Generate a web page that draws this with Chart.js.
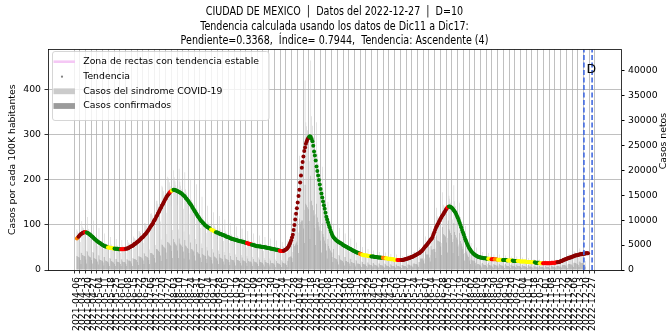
<!DOCTYPE html>
<html>
<head>
<meta charset="utf-8">
<script src="https://cdn.jsdelivr.net/npm/chart.js@4.4.1/dist/chart.umd.min.js"></script>
<style>
  html, body { margin: 0; padding: 0; background: #fff; overflow: hidden; }
  #grafica { display: block; }
</style>
</head>
<body>
<canvas id="grafica" width="669" height="333"></canvas>
<script>
// Weekly tick labels (one every 7 days, day 0 = 2021-04-06)
const etiquetasSemana = [
  '2021-04-06','2021-04-13','2021-04-20','2021-04-27','2021-05-04','2021-05-11','2021-05-18','2021-05-25',
  '2021-06-01','2021-06-08','2021-06-15','2021-06-22','2021-06-29','2021-07-06','2021-07-13','2021-07-20',
  '2021-07-27','2021-08-03','2021-08-10','2021-08-17','2021-08-24','2021-08-31','2021-09-07','2021-09-14',
  '2021-09-21','2021-09-28','2021-10-05','2021-10-12','2021-10-19','2021-10-26','2021-11-02','2021-11-09',
  '2021-11-16','2021-11-23','2021-11-30','2021-12-07','2021-12-14','2021-12-21','2021-12-28','2022-01-04',
  '2022-01-11','2022-01-18','2022-01-25','2022-02-01','2022-02-08','2022-02-15','2022-02-22','2022-03-01',
  '2022-03-08','2022-03-15','2022-03-22','2022-03-29','2022-04-05','2022-04-12','2022-04-19','2022-04-26',
  '2022-05-03','2022-05-10','2022-05-17','2022-05-24','2022-05-31','2022-06-07','2022-06-14','2022-06-21',
  '2022-06-28','2022-07-05','2022-07-12','2022-07-19','2022-07-26','2022-08-02','2022-08-09','2022-08-16',
  '2022-08-23','2022-08-30','2022-09-06','2022-09-13','2022-09-20','2022-09-27','2022-10-04','2022-10-11',
  '2022-10-18','2022-10-25','2022-11-01','2022-11-08','2022-11-15','2022-11-22','2022-11-29','2022-12-06',
  '2022-12-13','2022-12-20','2022-12-27'
];

// Daily trend, cases per 100K (left axis)
const tendencia = [
  70,72,74,76,78,80,81,82,83,84, 84,84,83,82,81,80,78,77,75,74, 72,70,68,67,65,64,62,61,60,59,
  57,56,55,54,53,52,52,51,50,50, 50,49,49,49,48,48,48,47,47,47, 47,46,46,46,46,46,46,46,46,47,
  47,48,48,49,50,51,52,53,54,55, 57,58,59,61,62,64,65,67,69,71, 72,74,76,78,80,82,85,87,90,93,
  96,99,101,104,108,111,114,118,121,125, 128,132,136,139,143,146,150,153,157,160,
  163,166,168,171,173,175,176,177,178,178, 177,177,176,175,174,173,172,171,170,168,
  166,165,163,160,158,156,154,151,148,146, 143,140,137,134,131,128,125,122,119,117,
  114,111,109,107,105,103,101,99,98,96, 95,94,93,91,90,89,88,87,86,85,
  84,83,83,82,81,80,80,79,78,77, 77,76,75,74,74,73,72,71,70,70, 69,68,68,67,67,66,66,65,65,64,
  64,63,63,62,62,61,61,60,60,59, 58,58,57,57,56,56,55,55,54,54, 53,53,53,52,52,52,51,51,51,51,
  50,50,50,49,49,49,48,48,47,47, 46,46,46,45,45,45,44,44,43,43, 42,42,42,43,44,45,46,48,50,53,
  57,61,66,72,78,89,100,112,125,137, 150,164,178,194,210,227,240,252,264,272,
  280,285,290,293,296,297,295,291,286,276, 263,254,243,230,220,210,200,190,180,170,
  161,152,144,136,127,118,112,106,100,95, 89,84,79,75,72,70,68,66,65,63,
  62,61,60,59,58,56,55,54,53,52, 51,50,49,48,47,46,45,44,43,42, 41,40,39,39,38,37,36,35,35,34,
  33,33,33,32,32,32,31,31,31,31, 30,30,30,30,29,29,29,29,28,28, 28,28,27,27,27,27,26,26,26,26,
  25,25,25,25,24,24,24,24,23,23, 23,23,22,22,22,22,22,22,22,23, 23,24,24,25,25,26,26,27,28,29,
  29,30,31,32,33,34,35,36,37,38, 40,41,43,45,47,50,52,54,56,58, 61,63,66,68,70,74,79,84,89,93,
  97,101,104,108,111,115,118,121,124,127, 130,133,136,139,140,141,141,140,139,137,
  135,132,130,127,123,119,115,110,105,100, 95,89,84,79,73,68,64,59,55,51,
  48,45,42,40,38,36,35,33,32,31, 30,29,29,28,28,27,27,26,26,26, 26,25,25,25,25,25,25,24,24,24,
  24,24,24,24,23,23,23,23,23,23, 22,22,22,22,22,22,21,21,21,21, 21,21,21,21,20,20,20,20,20,20,
  20,20,19,19,19,19,19,19,19,19, 18,18,18,18,18,17,17,17,17,17, 17,16,16,16,16,16,15,15,15,15,
  15,15,15,15,15,15,15,15,15,15, 15,16,16,16,16,16,17,17,17,18, 18,19,20,20,21,22,23,24,24,25,
  26,26,27,28,28,29,30,30,31,32, 32,33,33,34,34,35,35,35,36,36, 36,36,37,37,37,37
];

// Trend class runs: [class, number of days]
const tramosTendencia = [
  ['O',2],['D',8],['R',2],['G',26],['Y',8],['G',8],['R',6],['D',54],['R',2],['Y',2],
  ['G',46],['Y',6],['G',38],['R',6],['G',34],['R',5],['D',31],['G',62],['O',3],['Y',11],
  ['G',14],['O',4],['Y',14],['R',5],['D',56],['R',2],['G',48],['Y',4],['R',4],['O',4],
  ['Y',6],['G',6],['Y',6],['G',6],['Y',21],['G',6],['Y',4],['R',18],['D',38]
];

// Daily cases in hundreds (right axis), one row per week
const sindromeCientos = [
  81,77,74,70,56,35,98, 87,84,80,76,61,38,106, 82,78,75,71,57,36,99, 69,66,63,60,48,30,84,
  60,57,55,52,42,26,73, 54,52,49,47,38,24,66, 51,48,46,44,35,22,62, 49,47,45,43,34,22,60,
  49,47,45,43,34,22,60, 55,53,50,48,38,24,67, 64,62,59,56,45,28,78, 77,74,70,67,54,34,94,
  93,89,85,81,65,41,113, 114,109,104,99,79,50,139, 139,133,127,121,97,61,169, 166,158,151,144,115,72,187,
  184,176,168,160,128,80,200, 186,178,170,162,130,81,203, 177,169,162,154,123,77,196, 162,155,148,141,113,71,183,
  141,135,129,123,98,62,172, 121,116,110,105,84,53,147, 106,101,97,92,74,46,129, 95,91,87,83,66,42,116,
  89,85,81,77,62,39,108, 83,79,76,72,58,36,101, 77,74,70,67,54,34,94, 71,68,65,62,50,31,87,
  68,65,62,59,47,30,83, 64,62,59,56,45,28,78, 60,57,55,52,42,26,73, 56,54,51,49,39,25,69,
  54,52,49,47,38,24,66, 52,50,47,45,36,23,63, 48,46,44,42,34,21,59, 46,44,42,40,32,20,56,
  48,46,44,42,34,21,59, 56,58,59,61,53,36,115, 106,113,121,126,110,75,229, 205,213,219,221,185,121,380,
  296,288,280,270,218,137,420, 308,289,267,242,187,112,296, 233,213,193,175,132,78,207, 161,146,131,117,87,52,137,
  106,96,86,77,58,35,93, 69,66,63,60,48,30,84, 60,57,55,52,42,26,73, 52,50,47,45,36,23,63,
  45,43,41,39,31,20,55, 38,36,35,33,26,17,46, 35,33,32,30,24,15,42, 32,31,29,28,22,14,39,
  30,29,27,26,21,13,36, 29,28,26,25,20,13,35, 26,25,24,23,18,12,32, 25,24,23,22,18,11,31,
  23,22,21,20,16,10,28, 25,24,23,22,18,11,31, 30,29,27,26,21,13,36, 37,35,34,32,26,16,45,
  42,41,42,41,35,23,67, 57,57,56,56,46,30,88, 74,75,76,77,66,43,125, 107,105,104,102,85,54,156,
  131,128,126,122,100,64,180, 149,143,135,128,101,62,170, 138,128,119,110,85,51,135, 106,96,86,77,58,34,88,
  68,60,53,47,35,21,54, 37,35,34,32,26,16,45, 30,29,27,26,21,13,36, 28,26,25,24,19,12,34,
  25,24,23,22,18,11,31, 25,24,23,22,18,11,31, 24,23,22,21,17,11,29, 22,21,20,19,15,10,27,
  22,21,20,19,15,10,27, 21,20,19,18,14,9,25, 20,19,18,17,14,9,24, 18,18,17,16,13,8,22,
  17,17,16,15,12,8,21, 16,15,15,14,11,7,20, 16,15,15,14,11,7,20, 17,17,16,15,12,8,21,
  20,19,18,17,14,9,24, 25,24,23,22,18,11,31, 31,30,28,27,22,14,38, 36,34,33,31,25,16,43,
  38,36,35,33,26,12,18
];
const confirmadosCientos = [
  28,27,26,25,20,12,34, 30,29,28,27,21,13,37, 29,27,26,25,20,13,35, 24,23,22,21,17,11,29,
  21,20,19,18,15,9,26, 19,18,17,16,13,8,23, 18,17,16,15,12,8,22, 17,16,16,15,12,8,21,
  17,16,16,15,12,8,21, 19,19,18,17,13,8,23, 22,22,21,20,16,10,27, 27,26,25,23,19,12,33,
  28,27,26,24,20,12,34, 34,33,31,30,24,15,42, 42,40,38,36,29,18,51, 50,47,45,43,35,22,56,
  55,53,50,48,38,24,62, 56,53,51,49,39,24,63, 53,51,49,46,37,23,60, 49,47,44,42,34,21,55,
  42,41,39,37,29,19,52, 36,35,33,32,25,16,44, 32,30,29,28,22,14,39, 29,27,26,25,20,13,35,
  27,26,24,23,19,12,32, 25,24,23,22,17,11,30, 23,22,21,20,16,10,28, 21,20,20,19,15,9,26,
  20,20,19,18,14,9,25, 19,19,18,17,14,8,23, 18,17,17,16,13,8,22, 17,16,15,15,12,8,21,
  16,16,15,14,11,7,20, 16,15,14,14,11,7,19, 14,14,13,13,10,6,18, 14,13,13,12,10,6,17,
  14,14,13,13,10,6,18, 25,26,27,27,24,16,52, 48,51,54,57,50,34,103, 92,96,99,99,83,54,171,
  133,130,126,122,98,62,189, 139,130,120,109,84,50,133, 105,96,87,79,59,35,93, 72,66,59,53,39,23,62,
  48,43,39,35,26,16,42, 24,23,22,21,17,11,29, 21,20,19,18,15,9,26, 18,18,16,16,13,8,22,
  16,15,14,14,11,7,19, 13,13,12,12,9,6,16, 12,12,11,11,8,5,15, 11,11,10,10,8,5,14,
  11,10,9,9,7,5,13, 10,10,9,9,7,5,12, 9,9,8,8,6,4,11, 9,8,8,8,6,4,11,
  8,8,7,7,6,4,10, 9,8,8,8,6,4,11, 11,10,9,9,7,5,13, 13,12,12,11,9,6,16,
  23,23,23,23,19,13,37, 31,31,31,31,25,17,48, 41,41,42,42,36,24,69, 59,58,57,56,47,30,86,
  72,70,69,67,55,35,99, 82,79,74,70,56,34,94, 76,70,65,61,47,28,74, 58,53,47,42,32,19,48,
  37,33,29,26,19,12,30, 20,19,19,18,14,9,25, 12,12,11,10,8,5,14, 11,10,10,10,8,5,14,
  10,10,9,9,7,4,12, 10,10,9,9,7,4,12, 10,9,9,8,7,4,12, 9,8,8,8,6,4,11,
  9,8,8,8,6,4,11, 8,8,8,7,6,4,10, 8,8,7,7,6,4,10, 7,7,7,6,5,3,9,
  7,7,6,6,5,3,8, 6,6,6,6,4,3,8, 6,6,6,6,4,3,8, 7,7,6,6,5,3,8,
  8,8,7,7,6,4,10, 10,10,9,9,7,4,12, 12,12,11,11,9,6,15, 14,14,13,12,10,6,17,
  15,14,14,13,10,5,7
];

const diasCorte = [620, 630];
const ticksIzq = [0, 100, 200, 300, 400];
const ticksDer = [0, 5000, 10000, 15000, 20000, 25000, 30000, 35000, 40000];
const titulo = [
  'CIUDAD DE MEXICO  |  Datos del 2022-12-27  |  D=10',
  'Tendencia calculada usando los datos de Dic11 a Dic17:',
  'Pendiente=0.3368,  Índice= 0.7944,  Tendencia: Ascendente (4)'
];
const nombresSeries = ['Zona de rectas con tendencia estable', 'Tendencia', 'Casos del sindrome COVID-19', 'Casos confirmados'];

const coloresClase = { D: '#8b0000', R: '#ff0000', O: '#ff8000', Y: '#ffff00', G: '#008000' };
const GRIS_CLARO = '#cbcbcb';
const GRIS_OSCURO = '#9b9b9b';
const FUENTE = '"DejaVu Sans", sans-serif';

// expand the class runs into one colour per day
let coloresTendencia = [];
tramosTendencia.forEach(([clase, n]) => {
  for (let k = 0; k < n; k++) coloresTendencia.push(coloresClase[clase]);
});

function caja(ctx, x, y, w, h, r) {
  ctx.beginPath();
  ctx.moveTo(x + r, y);
  ctx.arcTo(x + w, y, x + w, y + h, r);
  ctx.arcTo(x + w, y + h, x, y + h, r);
  ctx.arcTo(x, y + h, x, y, r);
  ctx.arcTo(x, y, x + w, y, r);
  ctx.closePath();
}

const extras = {
  id: 'extras',
  afterDatasetsDraw(chart) {
    const { ctx, chartArea: a, scales } = chart;
    ctx.save();
    // top spine
    ctx.strokeStyle = '#000';
    ctx.lineWidth = 0.8;
    ctx.beginPath();
    ctx.moveTo(a.left, a.top);
    ctx.lineTo(a.right, a.top);
    ctx.stroke();
    // D marker
    ctx.fillStyle = '#000';
    ctx.font = '12.5px ' + FUENTE;
    ctx.textAlign = 'left';
    ctx.textBaseline = 'alphabetic';
    ctx.fillText('D', scales.x.getPixelForValue(diasCorte[0]) + 2.5, 72.5);
    // right axis title, reading bottom to top
    ctx.font = '9.3px ' + FUENTE;
    ctx.translate(664, 141);
    ctx.rotate(-Math.PI / 2);
    ctx.textAlign = 'center';
    ctx.textBaseline = 'middle';
    ctx.fillText('Casos netos', 0, 0);
    ctx.restore();
  },
  afterDraw(chart) {
    const ctx = chart.ctx;
    const a = chart.chartArea;
    ctx.save();
    // title, narrow lettering
    ctx.fillStyle = '#000';
    ctx.font = '12.5px ' + FUENTE;
    ctx.textAlign = 'center';
    ctx.textBaseline = 'middle';
    const cx = (a.left + a.right) / 2;
    [12, 26.5, 41].forEach((y, i) => {
      ctx.save();
      ctx.translate(cx, y);
      ctx.scale(0.765, 1);
      ctx.fillText(titulo[i], 0, 0);
      ctx.restore();
    });

    // legend
    caja(ctx, 52.5, 51.5, 216.5, 69, 2.5);
    ctx.fillStyle = 'rgba(255,255,255,0.8)';
    ctx.fill();
    ctx.strokeStyle = '#cccccc';
    ctx.lineWidth = 0.8;
    ctx.stroke();

    const filas = [61.7, 76.7, 91.3, 106];
    const x0 = 53.5, x1 = 75;
    ctx.strokeStyle = '#f5c8f5';
    ctx.lineWidth = 2.6;
    ctx.beginPath();
    ctx.moveTo(x0, filas[0]);
    ctx.lineTo(x1, filas[0]);
    ctx.stroke();

    ctx.fillStyle = '#808080';
    ctx.beginPath();
    ctx.arc(62, filas[1], 1.1, 0, Math.PI * 2);
    ctx.fill();

    ctx.fillStyle = GRIS_CLARO;
    ctx.fillRect(x0, filas[2] - 2.9, x1 - x0, 5.8);
    ctx.fillStyle = GRIS_OSCURO;
    ctx.fillRect(x0, filas[3] - 2.9, x1 - x0, 5.8);

    ctx.fillStyle = '#000';
    ctx.font = '9.3px ' + FUENTE;
    ctx.textAlign = 'left';
    ctx.textBaseline = 'middle';
    nombresSeries.forEach((t, i) => ctx.fillText(t, 83.3, filas[i]));
    ctx.restore();
  }
};

Chart.defaults.font.family = FUENTE;
Chart.defaults.font.size = 9.3;
Chart.defaults.color = '#000';

const lineaCorte = d => ({
  type: 'line',
  data: [{ x: d, y: 0 }, { x: d, y: 489.5 }],
  yAxisID: 'y',
  borderColor: '#4169e1',
  borderWidth: 1.6,
  borderDash: [5, 2.5],
  pointRadius: 0,
  order: 0
});

new Chart(document.getElementById('grafica'), {
  type: 'bar',
  data: {
    datasets: [
      lineaCorte(diasCorte[0]),
      lineaCorte(diasCorte[1]),
      {
        type: 'scatter',
        label: nombresSeries[1],
        data: tendencia.map((v, i) => ({ x: i, y: v })),
        yAxisID: 'y',
        pointRadius: 2,
        pointBorderWidth: 0,
        pointBackgroundColor: coloresTendencia,
        order: 1
      },
      {
        label: nombresSeries[3],
        data: confirmadosCientos.map((v, i) => ({ x: i, y: v * 100 })),
        yAxisID: 'y2',
        backgroundColor: GRIS_OSCURO,
        grouped: false,
        barPercentage: 1,
        categoryPercentage: 0.6,
        order: 2
      },
      {
        label: nombresSeries[2],
        data: sindromeCientos.map((v, i) => ({ x: i, y: v * 100 })),
        yAxisID: 'y2',
        backgroundColor: GRIS_CLARO,
        grouped: false,
        barPercentage: 1,
        categoryPercentage: 0.6,
        order: 3
      }
    ]
  },
  options: {
    responsive: false,
    animation: false,
    events: [],
    layout: { padding: { top: 49.5 } },
    plugins: {
      legend: { display: false },
      tooltip: { enabled: false },
      title: { display: false }
    },
    scales: {
      x: {
        type: 'linear',
        min: -31.5,
        max: 661.5,
        afterBuildTicks: s => { s.ticks = etiquetasSemana.map((_, i) => ({ value: i * 7 })); },
        afterFit: s => { s.height = 63; },
        ticks: {
          autoSkip: false,
          minRotation: 90,
          maxRotation: 90,
          padding: 3.5,
          font: { size: 9.3 },
          callback: v => etiquetasSemana[Math.round(v / 7)] || ''
        },
        grid: { color: '#b0b0b0', lineWidth: 0.8, tickLength: 3.5, tickColor: '#000' },
        border: { color: '#000', width: 0.8 }
      },
      y: {
        position: 'left',
        min: 0,
        max: 489.5,
        afterBuildTicks: s => { s.ticks = ticksIzq.map(v => ({ value: v })); },
        afterFit: s => { s.width = 48; },
        ticks: { padding: 3.5, font: { size: 9.3 }, callback: v => String(v) },
        grid: { color: '#b0b0b0', lineWidth: 0.8, tickLength: 3.5, tickColor: '#000' },
        border: { color: '#000', width: 0.8 },
        title: {
          display: true,
          text: 'Casos por cada 100K habitantes',
          font: { size: 9.3 },
          padding: { top: 7.4, bottom: 0 }
        }
      },
      y2: {
        position: 'right',
        min: 0,
        max: 44200,
        afterBuildTicks: s => { s.ticks = ticksDer.map(v => ({ value: v })); },
        afterFit: s => { s.width = 48; },
        ticks: { padding: 3.5, font: { size: 9.3 }, callback: v => String(v) },
        grid: { drawOnChartArea: false, tickLength: 3.5, tickColor: '#000' },
        border: { color: '#000', width: 0.8 }
      }
    }
  },
  plugins: [extras]
});
</script>
</body>
</html>
